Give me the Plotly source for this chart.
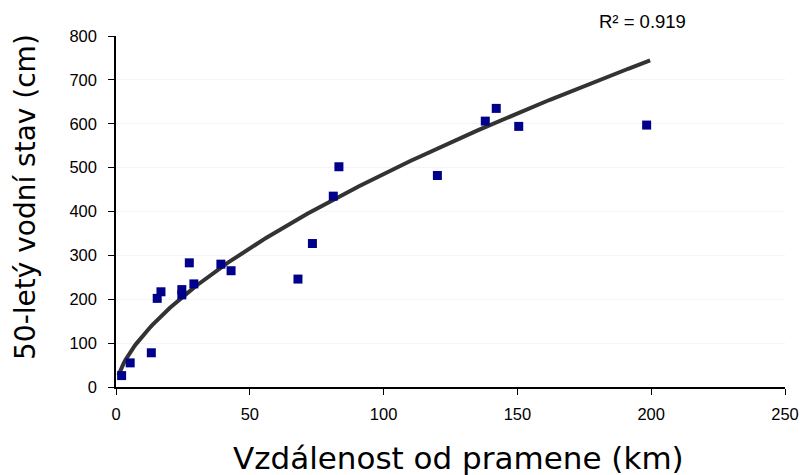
import numpy as np
import plotly.graph_objects as go

# distance from source (km)
distance_km = [2.1, 5.3, 13.2, 15.4, 16.8, 24.6, 24.6, 27.4, 29.1, 39.2, 43.0,
               68.0, 73.4, 81.2, 83.3, 120.1, 138.0, 142.1, 150.5, 198.3]
# 50-year water level (cm)
level_cm = [26, 55, 78, 202, 217, 222, 210, 283, 235, 280, 265,
            246, 327, 435, 502, 482, 606, 635, 594, 597]

x_ticks = [0, 50, 100, 150, 200, 250]
y_ticks = [0, 100, 200, 300, 400, 500, 600, 700, 800]
r2_label = "R² = 0.919"
x_title = "Vzdálenost od pramene (km)"
y_title = "50-letý vodní stav (cm)"

# power trendline y = a * x^b, coefficients
trend_a = 28.2
trend_b = 0.618
trend_x_range = [0.9, 199.6]
tx = np.linspace(trend_x_range[0], trend_x_range[1], 300)
ty = trend_a * tx ** trend_b

fig = go.Figure()
fig.add_trace(go.Scatter(x=tx, y=ty, mode="lines",
                         line=dict(color="#333333", width=4),
                         showlegend=False))
fig.add_trace(go.Scatter(x=distance_km, y=level_cm, mode="markers",
                         marker=dict(symbol="square", size=9, color="#00008B"),
                         showlegend=False))

fig.add_annotation(x=0.7877, y=1.04, xref="paper", yref="paper", text=r2_label,
                   showarrow=False, xanchor="center", yanchor="middle",
                   font=dict(family="Liberation Sans, Arial", size=18.5, color="#000"))
fig.add_annotation(x=0.512, y=-0.2037, xref="paper", yref="paper", text=x_title,
                   showarrow=False, xanchor="center", yanchor="middle",
                   font=dict(family="DejaVu Sans", size=31, color="#000"))
fig.add_annotation(x=-0.1362, y=0.541, xref="paper", yref="paper", text=y_title,
                   showarrow=False, xanchor="center", yanchor="middle", textangle=-90,
                   font=dict(family="DejaVu Sans", size=28, color="#000"))

fig.update_layout(
    width=802, height=475,
    margin=dict(l=116, r=17, t=36, b=88),
    plot_bgcolor="white", paper_bgcolor="white",
    font=dict(family="Liberation Sans, Arial", color="#000"),
)
fig.update_xaxes(range=[0, 250], tickvals=x_ticks, showgrid=False,
                 automargin=False,
                 showline=True, linecolor="#000", linewidth=1.5,
                 ticks="outside", ticklen=6, tickcolor="#000",
                 ticklabelstandoff=5,
                 tickfont=dict(size=16.5), zeroline=False)
fig.update_yaxes(range=[0, 800], tickvals=y_ticks, showgrid=True,
                 automargin=False,
                 gridcolor="#f2f5f7", gridwidth=1,
                 showline=True, linecolor="#000", linewidth=1.5,
                 ticks="outside", ticklen=6, tickcolor="#000",
                 ticklabelstandoff=8,
                 tickfont=dict(size=16.5), zeroline=False)

fig.write_html("out.html",
               config={"displayModeBar": False},
               post_script="document.body.style.margin='0';"
                           "document.body.style.overflow='hidden';")
